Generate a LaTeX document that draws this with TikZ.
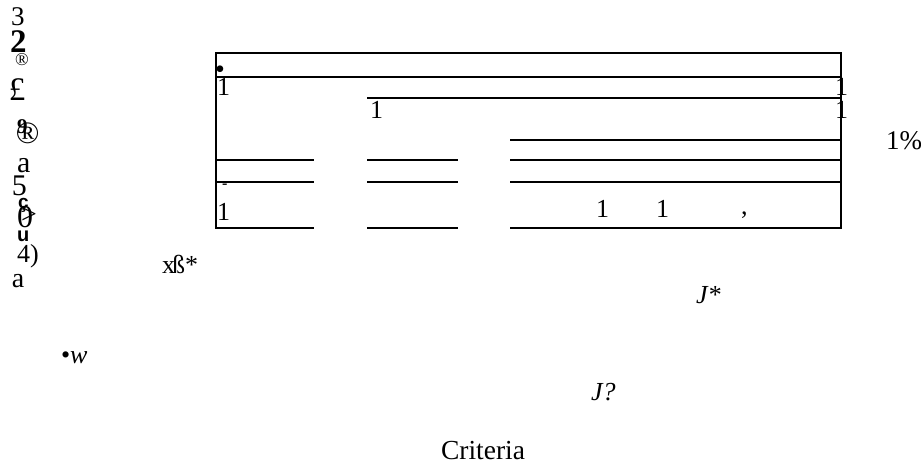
\documentclass[tikz,border=0pt]{standalone}
\usepackage{fontspec}
\setmainfont{Liberation Serif}
\newfontfamily\sansbold{Liberation Sans}
\newcommand\fsz[1]{\fontsize{#1}{#1}\selectfont}
\begin{document}
\begin{tikzpicture}[x=1pt,y=-1pt,
  tx/.style={anchor=base west,inner sep=0pt,outer sep=0pt},
  rule/.style={line width=1.2pt,line cap=rect}]
\useasboundingbox (0,0) rectangle (921,464);
% ---- left column of characters
\node[tx,font=\fsz{27}] (t3) at (11,25) {3};
\node[tx,font=\fsz{33}\bfseries] (t2) at (10,52) {2};
\node[tx,font=\fsz{18}] (r1) at (15,65) {®};
\node[tx,font=\fsz{33}] (pound) at (9,100) {£};
\node[tx,font=\fsz{21}\bfseries] (t9) at (17,133) {9};
\node[tx,font=\fsz{31}] (r2) at (16,143) {®};
\node[tx,font=\fsz{30}] (a1) at (17,172) {a};
\node[tx,font=\fsz{30}] (t5) at (12,195) {5};
\node[tx,font=\sansbold\fsz{19}\bfseries] (cc) at (18,208) {ç};
\node[tx,font=\fsz{32}] (oo) at (17,227) {0};
\node[tx,font=\fsz{28}] (gt) at (21,223) {>};
\node[tx,font=\sansbold\fsz{20}\bfseries] (uu) at (17,241) {u};
\node[tx,font=\fsz{26}] (t4) at (17,262) {4)};
\node[tx,font=\fsz{28}] (a2) at (12,287) {a};
% ---- table rules
\draw[rule] (216,53) -- (841,53);
\draw[rule] (216,53) -- (216,228);
\draw[rule] (841,53) -- (841,228);
\draw[rule] (216,77) -- (841,77);
\draw[rule] (368,98) -- (841,98);
\draw[rule] (511,140) -- (841,140);
\foreach \yy in {160,182,228}{
  \draw[rule] (216,\yy) -- (313,\yy);
  \draw[rule] (368,\yy) -- (457,\yy);
  \draw[rule] (511,\yy) -- (841,\yy);
}
% ---- table texts
\node[tx,font=\fsz{28}] (dot1) at (215,78) {•};
\node[tx,font=\fsz{26}] (one1) at (217,95) {1};
\node[tx,font=\fsz{26}] (one2) at (370,118) {1};
\node[tx,font=\fsz{26}] (one3) at (835,95) {1};
\node[tx,font=\fsz{26}] (one4) at (835,118) {1};
\node[tx,font=\fsz{27}] (pct) at (886,149) {1\%};
\node[tx,font=\fsz{16}\bfseries] (dash) at (222,188) {-};
\node[tx,font=\fsz{26}] (one5) at (217,220) {1};
\node[tx,font=\fsz{26}] (one6) at (596,217) {1};
\node[tx,font=\fsz{26}] (one7) at (656,217) {1};
\node[tx,font=\fsz{26}] (comma) at (741,214) {,};
% ---- loose labels
\node[tx,font=\fsz{26}] (xs) at (162,273) {x\kern-3ptß*};
\node[tx,font=\fsz{26}] (bw) at (61,363) {•\textit{w}};
\node[tx,font=\fsz{26}\itshape] (jstar) at (696,303) {J*};
\node[tx,font=\fsz{26}\itshape] (jq) at (591,400) {J?};
\node[tx,font=\fsz{27.5}] (crit) at (441,459) {Criteria};
\end{tikzpicture}
\end{document}
